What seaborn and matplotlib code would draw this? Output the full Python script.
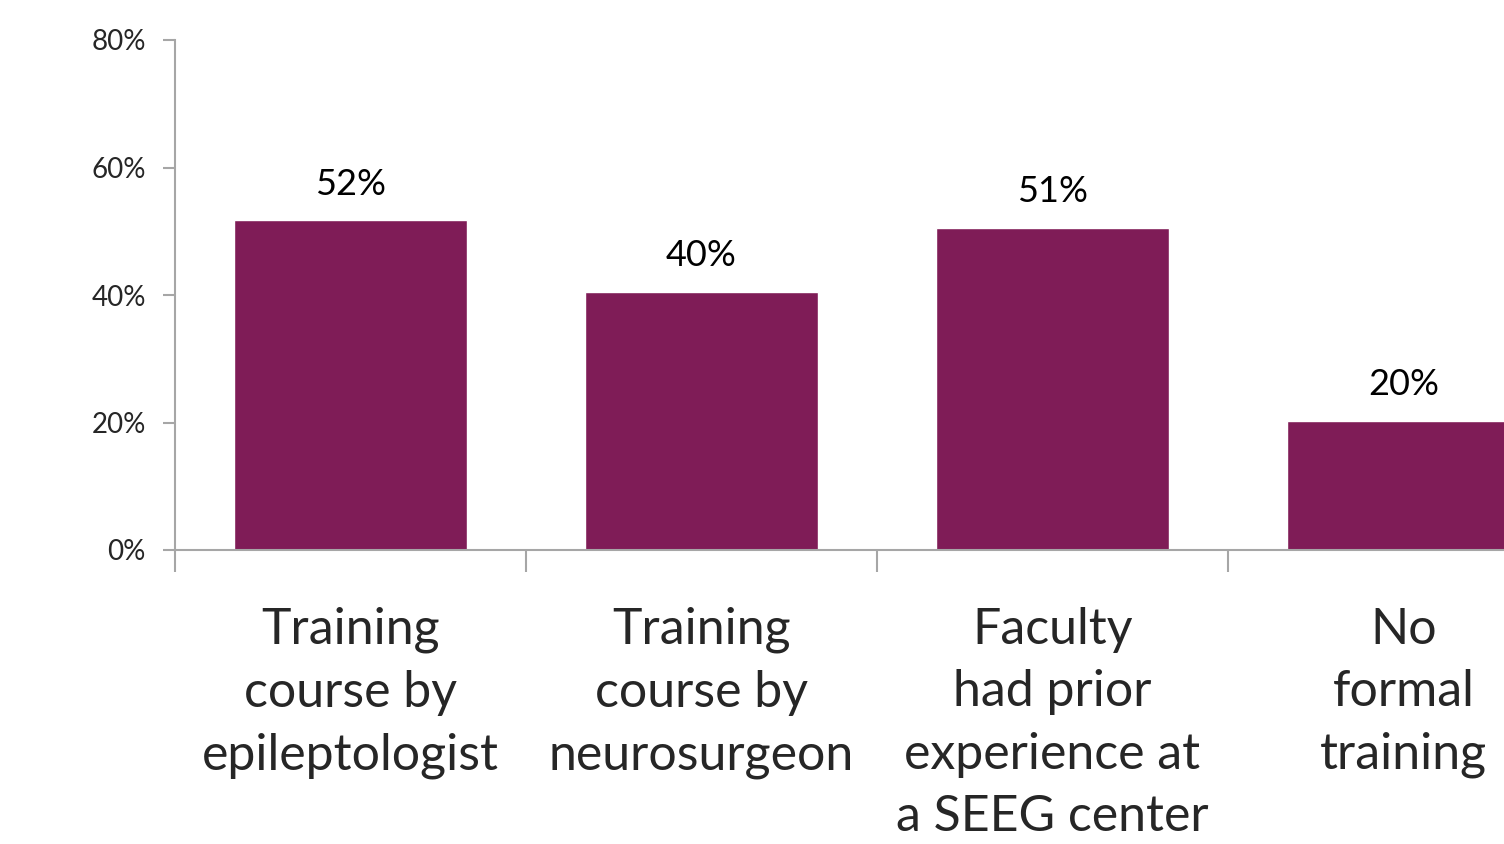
import numpy as np
import pandas as pd
import matplotlib
matplotlib.use('Agg')
import matplotlib.pyplot as plt
import seaborn as sns
from matplotlib.ticker import PercentFormatter, FixedLocator

# data
categories = ['Training\ncourse by\nepileptologist',
              'Training\ncourse by\nneurosurgeon',
              'Faculty\nhad prior\nexperience at\na SEEG center',
              'No\nformal\ntraining']
values     = [0.517, 0.405, 0.505, 0.202]
labels     = ['52%', '40%', '51%', '20%']
yticks     = [0.0, 0.2, 0.4, 0.6, 0.8]

BAR_COLOR  = '#7F1C57'
AXIS_COLOR = '#A6A6A6'

sns.set_style('white')
plt.rcParams['font.family'] = ['Lato', 'DejaVu Sans']

df = pd.DataFrame({'cat': categories, 'val': values})

fig = plt.figure(figsize=(15.04, 8.44), dpi=100)
# axes run past the right edge, like the original slide crop
ax = fig.add_axes([175/1504, 294/844, 1404/1504, 510/844])

sns.barplot(data=df, x='cat', y='val', color=BAR_COLOR,
            width=0.665, saturation=1, ax=ax)

for i, (v, lab) in enumerate(zip(values, labels)):
    ax.text(i, v + 0.057, lab, ha='center', va='center',
            fontsize=26, color='black')

ax.set_xlim(-0.5, 3.5)
ax.set_ylim(0, 0.8)
ax.set_yticks(yticks)
ax.yaxis.set_major_formatter(PercentFormatter(1.0, decimals=0))
ax.set_xlabel('')
ax.set_ylabel('')

for side in ['top', 'right']:
    ax.spines[side].set_visible(False)
for side in ['left', 'bottom']:
    ax.spines[side].set_color(AXIS_COLOR)
    ax.spines[side].set_linewidth(1.5)

ax.tick_params(axis='y', which='major', direction='out', length=9,
               width=1.5, color=AXIS_COLOR, labelsize=20, pad=12, left=True)
# x: labels at centres, tick marks at category borders
ax.tick_params(axis='x', which='major', length=0, labelsize=36, pad=41)
ax.xaxis.set_minor_locator(FixedLocator([-0.5, 0.5, 1.5, 2.5, 3.5]))
ax.tick_params(axis='x', which='minor', direction='out', length=16,
               width=1.5, color=AXIS_COLOR, bottom=True)
for t in ax.get_xticklabels():
    t.set_linespacing(1.44)
    t.set_va('top')

fig.savefig('out.png', dpi=100)
